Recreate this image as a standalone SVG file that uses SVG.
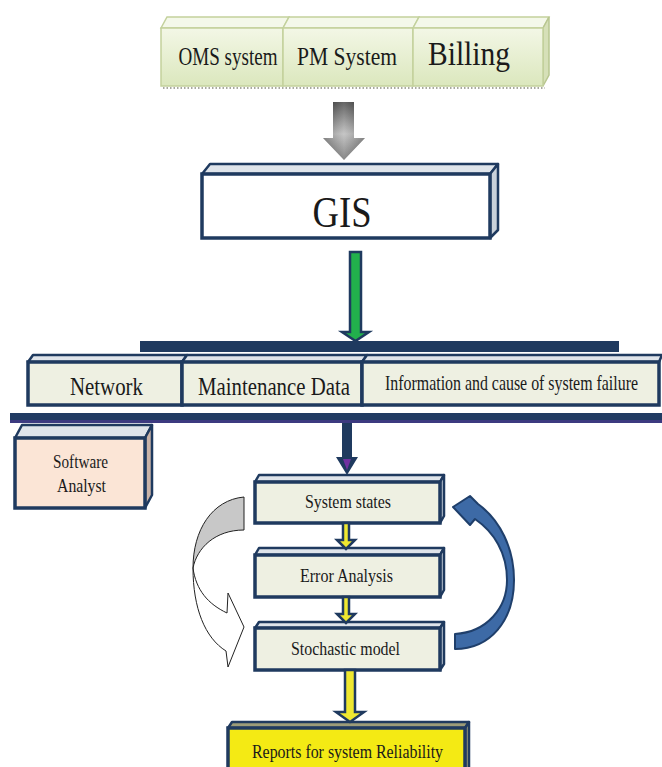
<svg xmlns="http://www.w3.org/2000/svg" width="662" height="767" viewBox="0 0 662 767">
<defs>
<linearGradient id="gTop" x1="0" y1="0" x2="0" y2="1">
<stop offset="0" stop-color="#f3f7e6"/><stop offset="1" stop-color="#dbe7bd"/>
</linearGradient>
<linearGradient id="gArrow" x1="0" y1="0" x2="0" y2="1">
<stop offset="0" stop-color="#404040"/><stop offset="0.55" stop-color="#b8b8b8"/><stop offset="1" stop-color="#6a6a6a"/>
</linearGradient>
<linearGradient id="gArrowH" x1="0" y1="0" x2="1" y2="0">
<stop offset="0" stop-color="#000" stop-opacity="0.25"/><stop offset="0.5" stop-color="#fff" stop-opacity="0.2"/><stop offset="1" stop-color="#000" stop-opacity="0.25"/>
</linearGradient>
</defs>
<style>
text{font-family:"Liberation Serif","Times New Roman",serif;fill:#1a1a1a;text-anchor:middle}
.gb .f{fill:url(#gTop);stroke:#c3d19c;stroke-width:1.5}
.gb .t{fill:#f4f8ea;stroke:#c3d19c;stroke-width:1.5}
.gb .s{fill:#d6e0b8;stroke:#b8c690;stroke-width:1.5}
.nb .f{fill:#eef0e2;stroke:#1f3a5f;stroke-width:3.5}
.nb .t{fill:#dfe4ea;stroke:#1f3a5f;stroke-width:2.5;stroke-linejoin:round}
.nb .s{fill:#c9d1da;stroke:#1f3a5f;stroke-width:2.5;stroke-linejoin:round}
.wb .f{fill:#ffffff}
.pb .f{fill:#fbe5d6}
.pb .s{fill:#c9b3a8}
.yb .f{fill:#f4ea14}
.yb .t,.yb .s{fill:#9c9c78}
.ya{fill:#efe830;stroke:#1f3a5f;stroke-width:2.5;stroke-linejoin:miter}
</style>

<!-- Top source boxes -->
<line x1="163" y1="88" x2="545" y2="88" stroke="#a8a8a0" stroke-width="2" stroke-dasharray="1.5 2"/>
<g id="oms" class="gb">
<polygon class="t" points="161,28 167,17 289,17 283,28"/>
<rect class="f" x="161" y="28" width="122" height="58"/>
<text transform="translate(228,65) scale(1,1.35)" font-size="19" textLength="99" lengthAdjust="spacingAndGlyphs">OMS system</text>
</g>
<g id="pm" class="gb">
<polygon class="t" points="283,28 289,17 419,17 413,28"/>
<rect class="f" x="283" y="28" width="130" height="58"/>
<text transform="translate(347,65) scale(1,1.21)" font-size="21.5" textLength="100" lengthAdjust="spacingAndGlyphs">PM System</text>
</g>
<g id="billing" class="gb">
<polygon class="t" points="413,28 419,17 549,17 543,28"/>
<polygon class="s" points="543,28 549,17 549,75 543,86"/>
<rect class="f" x="413" y="28" width="130" height="58"/>
<text transform="translate(469,65) scale(1,1.15)" font-size="29.5" textLength="82" lengthAdjust="spacingAndGlyphs">Billing</text>
</g>

<!-- GIS -->
<g id="gis" class="nb wb">
<polygon class="t" points="202,174 210,164 498,164 490,174"/>
<polygon class="s" points="490,174 498,164 498,230 490,238"/>
<rect class="f" x="202" y="174" width="288" height="64" stroke-width="4"/>
<text transform="translate(342,227) scale(1,1.2)" font-size="36.6" textLength="59" lengthAdjust="spacingAndGlyphs">GIS</text>
</g>

<!-- Bars -->
<g id="bars">
<rect x="140" y="341" width="479" height="11" fill="#1f3a5f"/>
<rect x="10" y="413" width="652" height="10" fill="#213b63"/>
<rect x="10" y="420" width="652" height="3" fill="#3c3a80"/>
</g>

<!-- Data row -->
<g id="network" class="nb">
<polygon class="t" points="28,362 33,355 187,355 182,362"/>
<rect class="f" x="28" y="362" width="154" height="43"/>
<text transform="translate(106.5,395) scale(1,1.25)" font-size="20.9" textLength="73" lengthAdjust="spacingAndGlyphs">Network</text>
</g>
<g id="maintenance" class="nb">
<polygon class="t" points="182,362 187,355 367,355 362,362"/>
<rect class="f" x="182" y="362" width="180" height="43"/>
<text transform="translate(274,395) scale(1,1.28)" font-size="20.3" textLength="152" lengthAdjust="spacingAndGlyphs">Maintenance Data</text>
</g>
<g id="information" class="nb">
<polygon class="t" points="362,362 367,355 662,355 659,362"/>
<rect class="f" x="362" y="362" width="297" height="43"/>
<text transform="translate(511.5,390) scale(1,1.26)" font-size="15.9" textLength="253" lengthAdjust="spacingAndGlyphs">Information and cause of system failure</text>
</g>

<!-- Software Analyst -->
<g id="analyst" class="nb pb">
<polygon class="t" points="15,438 22,425 152,425 145,438"/>
<polygon class="s" points="145,438 152,425 152,495 145,508"/>
<rect class="f" x="15" y="438" width="130" height="70"/>
<text transform="translate(80.5,468) scale(1,1.18)" font-size="15.2" textLength="55" lengthAdjust="spacingAndGlyphs">Software</text>
<text transform="translate(81.5,492) scale(1,1.14)" font-size="15.7" textLength="49" lengthAdjust="spacingAndGlyphs">Analyst</text>
</g>

<!-- Process boxes -->
<g id="states" class="nb">
<polygon class="t" points="255,482 259,475 444,475 440,482"/>
<polygon class="s" points="440,482 444,475 444,516 440,523"/>
<rect class="f" x="255" y="482" width="185" height="41"/>
<text transform="translate(348,508) scale(1,1.13)" font-size="15.9" textLength="86" lengthAdjust="spacingAndGlyphs">System states</text>
</g>
<g id="error" class="nb">
<polygon class="t" points="255,555 259,548 444,548 440,555"/>
<polygon class="s" points="440,555 444,548 444,590 440,597"/>
<rect class="f" x="255" y="555" width="185" height="42"/>
<text transform="translate(346.5,582) scale(1,1.13)" font-size="15.9" textLength="93" lengthAdjust="spacingAndGlyphs">Error Analysis</text>
</g>
<g id="stochastic" class="nb">
<polygon class="t" points="255,628 259,622 444,622 440,628"/>
<polygon class="s" points="440,628 444,622 444,664 440,670"/>
<rect class="f" x="255" y="628" width="185" height="42"/>
<text transform="translate(345.5,655) scale(1,1.13)" font-size="15.9" textLength="109" lengthAdjust="spacingAndGlyphs">Stochastic model</text>
</g>
<g id="reports" class="nb yb">
<polygon class="t" points="228,728 232,722 469,722 465,728"/>
<polygon class="s" points="465,728 469,722 469,770 465,770"/>
<rect class="f" x="228" y="728" width="237" height="45"/>
<text transform="translate(347.5,758) scale(1,1.2)" font-size="15.9" textLength="191" lengthAdjust="spacingAndGlyphs">Reports for system Reliability</text>
</g>

<!-- Connectors -->
<g id="connectors">
<path d="M333,102 H354 V138 H365 L344,160 L323,138 H333 Z" fill="url(#gArrow)"/>
<path d="M333,102 H354 V138 H365 L344,160 L323,138 H333 Z" fill="url(#gArrowH)"/>
<path d="M350,252 H361 V332 H369 L355.5,341 L342,332 H350 Z" fill="#22b04c" stroke="#1f3a5f" stroke-width="2.5"/>
<path d="M342,423 H352 V457 H358 L347,475 L336,457 H342 Z" fill="#1f3a5f"/>
<path d="M343,459 H351 L347,470 Z" fill="#7030a0"/>
<path class="ya" d="M343,523 H349 V540 H355 L346,549 L337,540 H343 Z"/>
<path class="ya" d="M343,597 H349 V614 H355 L346,623 L337,614 H343 Z"/>
<path class="ya" d="M345,670 H355 V712 H364 L350,722 L336,712 H345 Z"/>
<!-- left curved arrow -->
<path d="M244,497 C212,500 193,530 193,568 C197,548 215,530 244,530 Z" fill="#c8c8c8" stroke="#222" stroke-width="1"/>
<path d="M193,568 C193,608 205,638 226,651 L228,667 L244,627 L228,593 L227,613 C208,604 196,590 193,568 Z" fill="#ffffff" stroke="#222" stroke-width="1"/>
<!-- right curved arrow -->
<path d="M455,634 C487,632 507,608 507,580 C507,553 494,532 475,519 L470,525 L453,507 L470,496 L478,504 C500,520 514,548 514,580 C514,621 490,649 455,649 Z" fill="#3d6aa6" stroke="#1f3f6b" stroke-width="2" stroke-linejoin="round"/>
</g>
</svg>
